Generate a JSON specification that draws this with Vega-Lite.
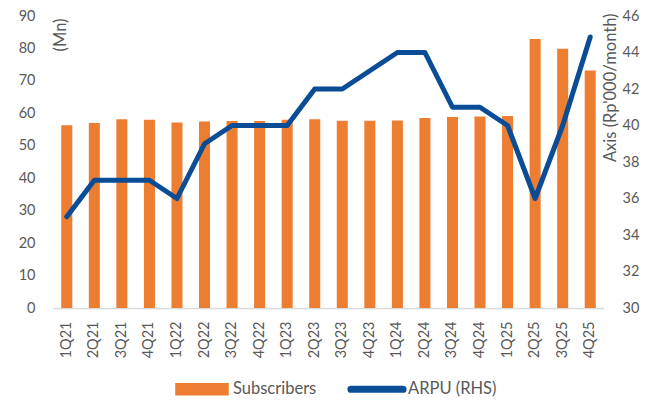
{
  "$schema": "https://vega.github.io/schema/vega-lite/v6.json",
  "width": 551,
  "height": 292,
  "autosize": "none",
  "padding": {"left": 53, "top": 16, "right": 49, "bottom": 92},
  "background": "white",
  "config": {
    "view": {"stroke": null},
    "font": "Lato",
    "axis": {"labelFont": "Lato", "titleFont": "Lato", "labelColor": "#595959", "titleColor": "#595959", "labelFontSize": 14.5, "titleFontSize": 16.5, "titleFontWeight": "normal", "grid": false, "ticks": false, "domain": false},
    "legend": {"labelFont": "Lato", "labelFontSize": 16.5, "labelColor": "#595959", "padding": 0}
  },
  "data": {
    "values": [
      {"quarter": "1Q21", "subs": 56.3, "arpu": 35},
      {"quarter": "2Q21", "subs": 57.0, "arpu": 37},
      {"quarter": "3Q21", "subs": 58.2, "arpu": 37},
      {"quarter": "4Q21", "subs": 58.0, "arpu": 37},
      {"quarter": "1Q22", "subs": 57.2, "arpu": 36},
      {"quarter": "2Q22", "subs": 57.5, "arpu": 39},
      {"quarter": "3Q22", "subs": 57.6, "arpu": 40},
      {"quarter": "4Q22", "subs": 57.6, "arpu": 40},
      {"quarter": "1Q23", "subs": 58.0, "arpu": 40},
      {"quarter": "2Q23", "subs": 58.2, "arpu": 42},
      {"quarter": "3Q23", "subs": 57.7, "arpu": 42},
      {"quarter": "4Q23", "subs": 57.7, "arpu": 43},
      {"quarter": "1Q24", "subs": 57.8, "arpu": 44},
      {"quarter": "2Q24", "subs": 58.6, "arpu": 44},
      {"quarter": "3Q24", "subs": 58.9, "arpu": 41},
      {"quarter": "4Q24", "subs": 59.0, "arpu": 41},
      {"quarter": "1Q25", "subs": 59.2, "arpu": 40},
      {"quarter": "2Q25", "subs": 82.9, "arpu": 36},
      {"quarter": "3Q25", "subs": 79.9, "arpu": 40},
      {"quarter": "4Q25", "subs": 73.2, "arpu": 44.85}
    ]
  },
  "encoding": {
    "x": {
      "field": "quarter", "type": "ordinal", "sort": null,
      "scale": {"paddingInner": 0.6, "paddingOuter": 0.3},
      "axis": {"title": null, "labelAngle": -90, "labelPadding": 13, "domain": true, "domainColor": "#D9D9D9", "domainWidth": 1.5}
    }
  },
  "layer": [
    {
      "mark": {"type": "bar", "color": "#ED7D31"},
      "encoding": {
        "y": {
          "field": "subs", "type": "quantitative",
          "scale": {"domain": [0, 90], "nice": false},
          "axis": {"values": [0, 10, 20, 30, 40, 50, 60, 70, 80, 90], "labelPadding": 18, "title": "(Mn)", "titleAngle": 270, "titleX": 7, "titleY": 2, "titleAlign": "right", "titleBaseline": "middle"}
        },
        "color": {
          "datum": "Subscribers",
          "scale": {"domain": ["Subscribers", "ARPU (RHS)"], "range": ["#ED7D31", "#0A4D96"]},
          "legend": {
            "title": null, "orient": "none", "legendX": 122, "legendY": 346, "direction": "horizontal", "columns": 2,
            "symbolSize": 2704, "columnPadding": 28, "labelOffset": 4,
            "encode": {
              "symbols": {
                "update": {
                  "shape": {"signal": "datum.value === 'Subscribers' ? 'M-1,-0.21H1V0.21H-1Z' : 'M-1,-0.11H1A0.11,0.11 0 0 1 1,0.11H-1A0.11,0.11 0 0 1 -1,-0.11Z'"},
                  "fill": {"signal": "datum.value === 'Subscribers' ? '#ED7D31' : '#0A4D96'"},
                  "stroke": {"value": "transparent"},
                  "opacity": {"value": 1}
                }
              }
            }
          }
        }
      }
    },
    {
      "mark": {"type": "line", "strokeWidth": 5, "strokeCap": "round", "strokeJoin": "round"},
      "encoding": {
        "y": {
          "field": "arpu", "type": "quantitative",
          "scale": {"domain": [30, 46], "nice": false, "zero": false},
          "axis": {"orient": "right", "values": [30, 32, 34, 36, 38, 40, 42, 44, 46], "labelPadding": 18, "title": "Axis (Rp'000/month)", "titleAngle": 270, "titleX": 6, "titleY": -3, "titleAlign": "right", "titleBaseline": "middle"}
        },
        "color": {"datum": "ARPU (RHS)"}
      }
    }
  ],
  "resolve": {"scale": {"y": "independent"}}
}
